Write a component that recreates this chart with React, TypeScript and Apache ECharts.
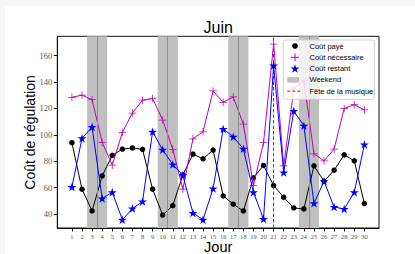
import React, { useEffect, useRef } from "react";
import * as echarts from "echarts";

const days = [1, 2, 3, 4, 5, 6, 7, 8, 9, 10, 11, 12, 13, 14, 15, 16, 17, 18, 19, 20, 21, 22, 23, 24, 25, 26, 27, 28, 29, 30];
const coutPaye = [94, 58.8, 42.3, 68.9, 84.4, 89.2, 90, 89, 58.8, 39.2, 46.4, 69.6, 85.4, 81.8, 88.4, 53.7, 47.4, 42.3, 67.4, 76.8, 61.6, 52.7, 44.6, 43.8, 76.5, 64.8, 73.2, 84.8, 80.3, 47.9];
const coutNecessaire = [128.4, 130, 126.6, 94.2, 77, 101.8, 116.5, 126.2, 127.4, 111.2, 89, 58.8, 97, 102.3, 133.2, 124.6, 128.7, 108, 61.6, 94, 168.7, 76.5, 134.5, 141, 85.6, 80.3, 89.2, 120, 122.8, 118.8];
const coutRestant = [60.5, 97.3, 105.9, 51.7, 56.5, 35.7, 44.1, 49.4, 102.3, 88.6, 77.5, 69.4, 40.8, 35.7, 59.3, 104.4, 98.5, 89.4, 56.5, 36.2, 152.5, 71.4, 118, 106.9, 48.1, 64.8, 45.3, 43.8, 56.5, 92.7];
const weekendDays = [3, 4, 10, 11, 17, 18, 24, 25];
const feteDay = 21;
const yTicks = [40, 60, 80, 100, 120, 140, 160];
const legendLabels = ["Coût payé", "Coût nécessaire", "Coût restant", "Weekend", "Fête de la musique"];

const STAR = "path://M10,0L12.245,6.91L19.51,6.91L13.633,11.18L15.88,18.09L10,13.82L4.12,18.09L6.367,11.18L0.49,6.91L7.755,6.91Z";
const PLUS = "path://M9,0L11,0L11,9L20,9L20,11L11,11L11,20L9,20L9,11L0,11L0,9L9,9Z";

function starPoints(cx: number, cy: number, r: number) {
  const pts: number[][] = [];
  for (let i = 0; i < 10; i++) {
    const a = -Math.PI / 2 + (i * Math.PI) / 5;
    const rr = i % 2 === 0 ? r : r * 0.382;
    pts.push([cx + rr * Math.cos(a), cy + rr * Math.sin(a)]);
  }
  return pts;
}

export default function App() {
  const ref = useRef<HTMLDivElement>(null);
  useEffect(() => {
    if (!ref.current) return;
    const chart = echarts.init(ref.current, null, { renderer: "svg" });
    const GL = 57.3, GT = 36.3, GR = 379, GB = 228;
    const sans = "Liberation Sans";
    const serif = "Liberation Serif";
    const lx = 295, tx = 309.5;
    const rows = [46, 57.3, 68.6, 79.9, 91.2];
    const weekendAreas = weekendDays.map((d) => [{ xAxis: d - 0.5 }, { xAxis: d + 0.5 }]);
    const weekendMid = [];
    for (let i = 0; i < weekendDays.length; i += 2) weekendMid.push({ xAxis: (weekendDays[i] + weekendDays[i + 1]) / 2 });
    const mk = (arr: number[]) => days.map((d, i) => [d, arr[i]]);
    const option: any = {
      animation: false,
      backgroundColor: "#f7f7f7",
      grid: {
        left: GL, top: GT, width: GR - GL, height: GB - GT,
        show: true, borderColor: "#111", borderWidth: 1, backgroundColor: "transparent",
      },
      xAxis: {
        type: "value", min: -0.45, max: 31.45,
        splitLine: { show: false },
        axisLine: { show: true, onZero: false, lineStyle: { color: "#111" } },
        axisTick: { show: true, length: 3.5, lineStyle: { color: "#111" }, customValues: days },
        axisLabel: { customValues: days, fontFamily: serif, fontSize: 6.5, color: "#555", margin: 4.5 },
      },
      yAxis: {
        type: "value", min: 29.4, max: 174.6,
        splitLine: { show: false },
        axisLine: { show: true, onZero: false, lineStyle: { color: "#111" } },
        axisTick: { show: true, length: 3.5, lineStyle: { color: "#111" }, customValues: yTicks },
        axisLabel: { customValues: yTicks, fontFamily: serif, fontSize: 8.5, color: "#555", margin: 5 },
      },
      series: [
        {
          name: "Weekend", type: "line", data: [], z: 1, silent: true,
          itemStyle: { color: "#8f8f8f" },
          markArea: { silent: true, itemStyle: { color: "#bfbfbf", opacity: 1 }, data: weekendAreas },
          markLine: {
            silent: true, symbol: ["none", "none"], label: { show: false },
            lineStyle: { color: "#8f8f8f", type: "solid", width: 1 }, data: weekendMid,
          },
        },
        {
          name: "Coût payé", type: "line", data: mk(coutPaye), z: 3,
          symbol: "circle", symbolSize: 5.5, showAllSymbol: true,
          itemStyle: { color: "#000" }, lineStyle: { color: "#000", width: 1 },
        },
        {
          name: "Coût nécessaire", type: "line", data: mk(coutNecessaire), z: 4,
          symbol: PLUS, symbolSize: 7.5, symbolKeepAspect: true, showAllSymbol: true,
          itemStyle: { color: "#bf00bf" }, lineStyle: { color: "#bf00bf", width: 1 },
        },
        {
          name: "Coût restant", type: "line", data: mk(coutRestant), z: 5,
          symbol: STAR, symbolSize: 9, symbolKeepAspect: true, showAllSymbol: true,
          itemStyle: { color: "#0000ff" }, lineStyle: { color: "#0000ff", width: 1 },
        },
        {
          name: "Fête de la musique", type: "line", data: [], z: 6, silent: true,
          itemStyle: { color: "#ff0000" },
          markLine: {
            silent: true, symbol: ["none", "none"], label: { show: false },
            itemStyle: { color: "#ff0000" },
            lineStyle: { color: "#ff0000", type: [3.5, 2], width: 1, opacity: 1 }, data: [{ xAxis: feteDay }],
          },
        },
      ],
      graphic: [
        { type: "rect", z: -100, silent: true, shape: { x: 5, y: 6, width: 415, height: 254 }, style: { fill: "#fff" } },
        { type: "text", z: 100, x: 218.2, y: 27.5, style: { text: "Juin", font: `16px "${sans}"`, fill: "#000", align: "center", verticalAlign: "middle" } },
        { type: "text", z: 100, x: 218.2, y: 247, style: { text: "Jour", font: `14.5px "${sans}"`, fill: "#000", align: "center", verticalAlign: "middle" } },
        { type: "text", z: 100, x: 29.5, y: 132.5, rotation: Math.PI / 2, style: { text: "Coût de régulation", font: `14px "${sans}"`, fill: "#000", align: "center", verticalAlign: "middle" } },
        { type: "rect", z: 100, shape: { x: 283.3, y: 40, width: 91, height: 59.3, r: 2 }, style: { fill: "rgba(255,255,255,0.8)", stroke: "#d0d0d0", lineWidth: 1 } },
        { type: "circle", z: 101, shape: { cx: lx, cy: rows[0], r: 2.8 }, style: { fill: "#000" } },
        { type: "line", z: 101, shape: { x1: lx - 4, y1: rows[1], x2: lx + 4, y2: rows[1] }, style: { stroke: "#bf00bf", lineWidth: 1 } },
        { type: "line", z: 101, shape: { x1: lx, y1: rows[1] - 4, x2: lx, y2: rows[1] + 4 }, style: { stroke: "#bf00bf", lineWidth: 1 } },
        { type: "polygon", z: 101, shape: { points: starPoints(lx, rows[2] + 0.3, 4.7) }, style: { fill: "#0000ff" } },
        { type: "rect", z: 101, shape: { x: 287.3, y: rows[3] - 2.8, width: 11.7, height: 5.6 }, style: { fill: "#bfbfbf" } },
        { type: "line", z: 101, shape: { x1: 287.3, y1: rows[4], x2: 302.5, y2: rows[4] }, style: { stroke: "#ff0000", lineWidth: 1, lineDash: [3, 2] } },
        ...legendLabels.map((t, i) => ({
          type: "text", z: 101, x: tx, y: rows[i],
          style: { text: t, font: `7.5px "${sans}"`, fill: "#000", align: "left", verticalAlign: "middle" },
        })),
      ],
    };
    chart.setOption(option);
    return () => chart.dispose();
  }, []);
  return <div ref={ref} style={{ position: "fixed", left: 0, top: 0, width: 415, height: 254 }} />;
}
